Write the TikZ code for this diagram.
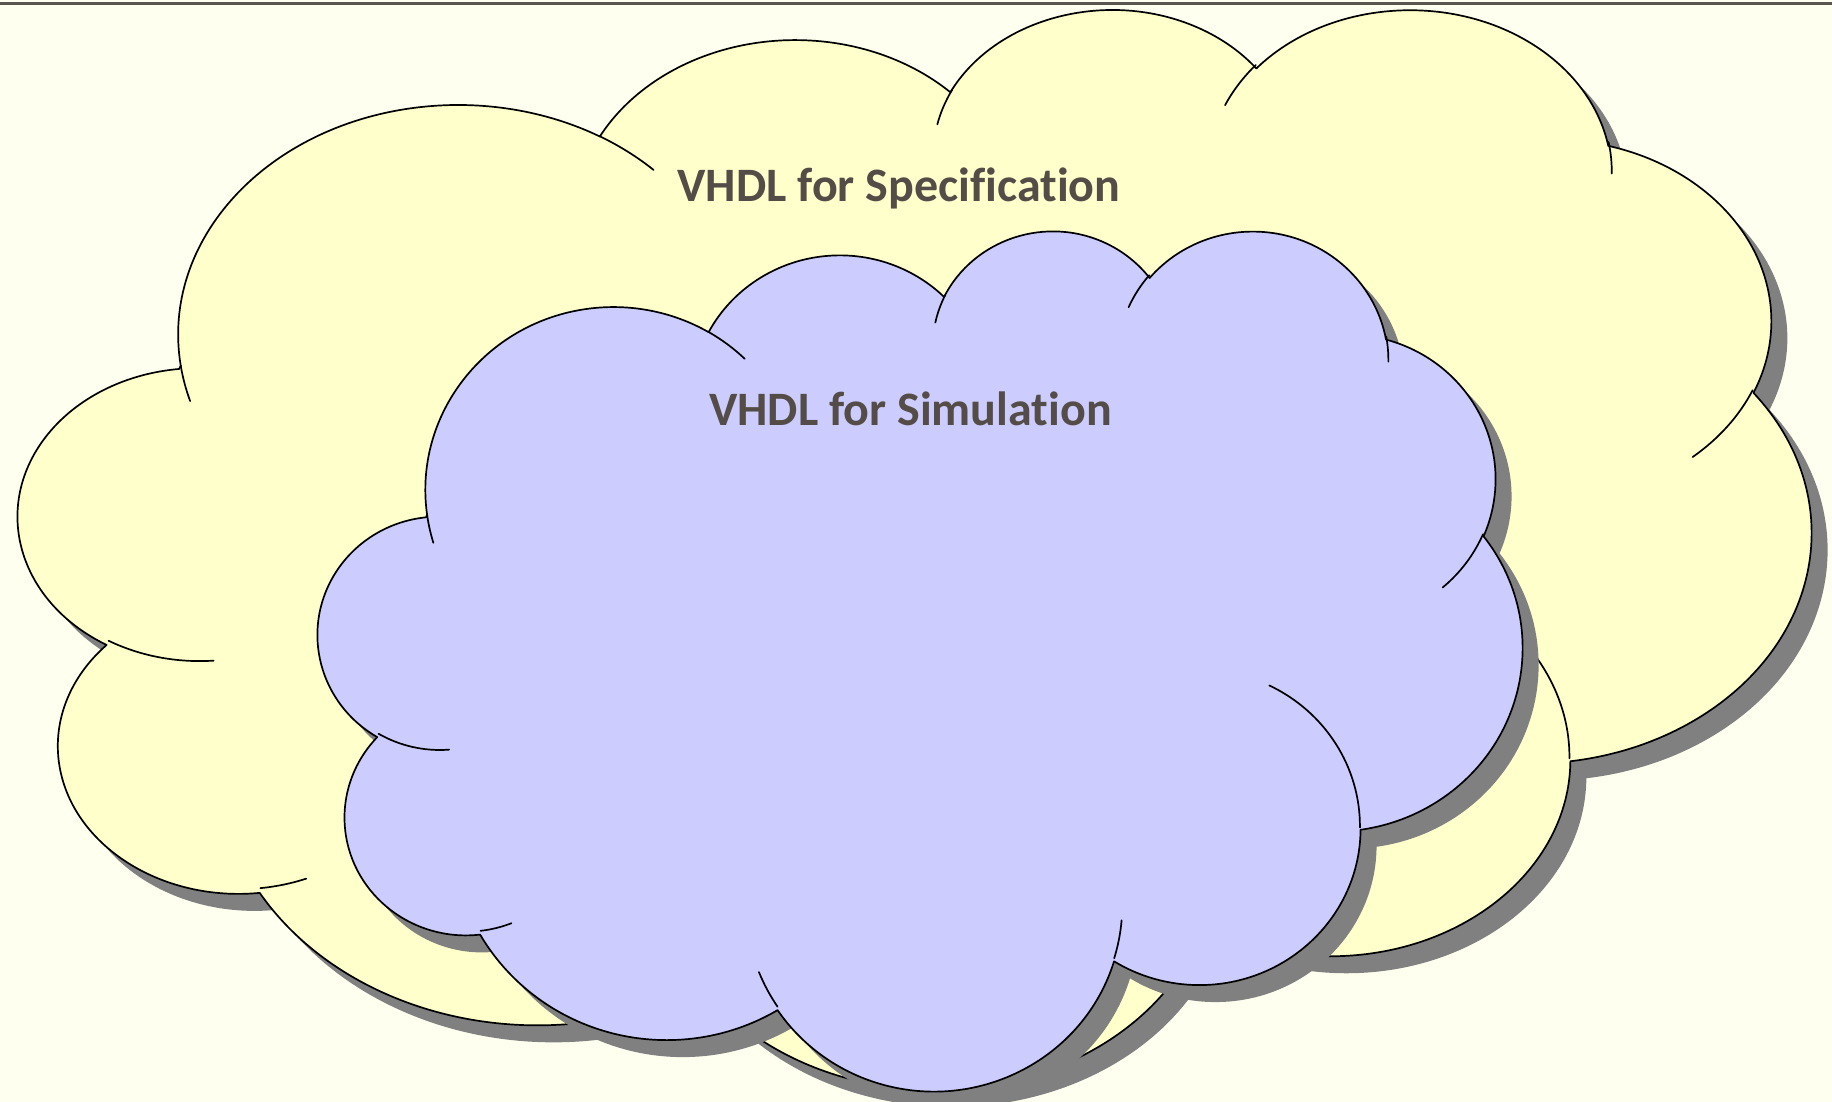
\documentclass[tikz,border=0pt]{standalone}
\usepackage{fontspec}
\setmainfont{Carlito}[Ligatures=NoCommon]

\definecolor{pagebg}{RGB}{255,255,240}
\definecolor{ruleline}{RGB}{90,85,80}
\definecolor{specfill}{RGB}{255,255,204}
\definecolor{simfill}{RGB}{204,204,255}
\definecolor{cloudshadow}{RGB}{128,128,128}
\definecolor{titletext}{RGB}{84,76,70}

% One lobe of the cloud: radii (rx, ry) and visual start angle / sweep in degrees.
% The visual angles are turned into the parametric angles that TikZ's arc expects.
\newcommand\cldarc[4]{%
  \pgfextra{%
    \pgfmathparse{#3}\global\let\cldSa\pgfmathresult
    \pgfmathparse{#3+#4}\global\let\cldSb\pgfmathresult
    \pgfmathparse{\cldSa+Mod(atan2(#1*sin(\cldSa),#2*cos(\cldSa))-\cldSa+180,360)-180}\global\let\cldTa\pgfmathresult
    \pgfmathparse{\cldSb+Mod(atan2(#1*sin(\cldSb),#2*cos(\cldSb))-\cldSb+180,360)-180}\global\let\cldTb\pgfmathresult
  }%
  arc[start angle=\cldTa, end angle=\cldTb, x radius=#1, y radius=#2]%
}

% Outline of the cloud in a 432 x 432 box (y pointing down)
\newcommand\cloudoutline{%
  (39.00,143.70)
  \cldarc{67.53}{91.90}{-190.48748}{123.78053}
  \cldarc{53.33}{72.67}{-144.10238}{89.94523}
  \cldarc{43.65}{59.45}{-145.80792}{99.72302}
  \cldarc{48.57}{65.95}{-130.98607}{117.24173}
  \cldarc{53.33}{72.73}{-78.70888}{109.02692}
  \cldarc{67.75}{92.20}{-46.26725}{130.269}
  \cldarc{57.85}{78.67}{0.62502}{114.03333}
  \cldarc{67.52}{92.15}{22.4516}{115.17255}
  \cldarc{77.20}{105.43}{66.24263}{75.71102}
  \cldarc{43.60}{59.18}{-274.94208}{146.73557}
  \cldarc{43.45}{59.45}{-246.8285}{152.51995}
  -- cycle}

% Short arcs that run on into the cloud where two lobes meet
\newcommand\cloudcreases{%
  (46.93,261.77) \cldarc{43.45}{59.45}{86.742}{26.4295}
  (69.28,348.99) \cldarc{43.60}{59.18}{73.61047}{11.44747}
  (164.78,390.90) \cldarc{67.52}{92.15}{137.62415}{14.0811}
  (288.27,347.51) \cldarc{67.52}{92.15}{6.45327}{15.99835}
  (341.29,229.54) \cldarc{57.85}{78.67}{-70.29235}{70.91737}
  (417.98,153.54) \cldarc{53.33}{72.73}{30.31803}{27.7515}
  (383.24,54.26) \cldarc{48.57}{65.95}{-13.74433}{14.8589}
  (290.78,39.52) \cldarc{48.57}{65.95}{-149.18145}{18.19537}
  (221.41,47.20) \cldarc{43.65}{59.45}{-163.49427}{17.68635}
  (140.00,51.92) \cldarc{67.53}{91.90}{-66.70695}{12.31935}
  (41.27,157.89) \cldarc{67.53}{91.90}{157.65435}{11.85817}}

\tikzset{
  cloudedge/.style={draw=black, line width=1.7pt, line join=round},
  creaseline/.style={draw=black, line width=1.7pt, line cap=round},
  shadowfill/.style={fill=cloudshadow},
  title/.style={text=titletext, font=\fontsize{48}{58}\selectfont\bfseries, anchor=base, inner sep=0pt}
}

\begin{document}
\begin{tikzpicture}[x=1pt, y=-1pt]
  \useasboundingbox (0,0) rectangle (1832,1102);
  \fill[pagebg] (0,0) rectangle (1832,1102);
  \draw[ruleline, line width=2.4pt] (0,3.5) -- (1832,3.5);

  % outer cloud
  \begin{scope}[shift={(34.96,23.48)}, x=4.1478pt, y=-2.499pt]
    \path[shadowfill] \cloudoutline;
  \end{scope}
  \begin{scope}[shift={(18.96,6.48)}, x=4.1478pt, y=-2.499pt]
    \path[cloudedge, fill=specfill] \cloudoutline;
    \path[creaseline] \cloudcreases;
  \end{scope}
  \node[title] (spec) at (899,202) {VHDL for Specification};

  % inner cloud
  \begin{scope}[shift={(334.4,245.6)}, x=2.7863pt, y=-1.9904pt]
    \path[shadowfill] \cloudoutline;
  \end{scope}
  \begin{scope}[shift={(318.4,228.6)}, x=2.7863pt, y=-1.9904pt]
    \path[cloudedge, fill=simfill] \cloudoutline;
    \path[creaseline] \cloudcreases;
  \end{scope}
  \node[title] (sim) at (910.5,425) {VHDL for Simulation};
\end{tikzpicture}
\end{document}
